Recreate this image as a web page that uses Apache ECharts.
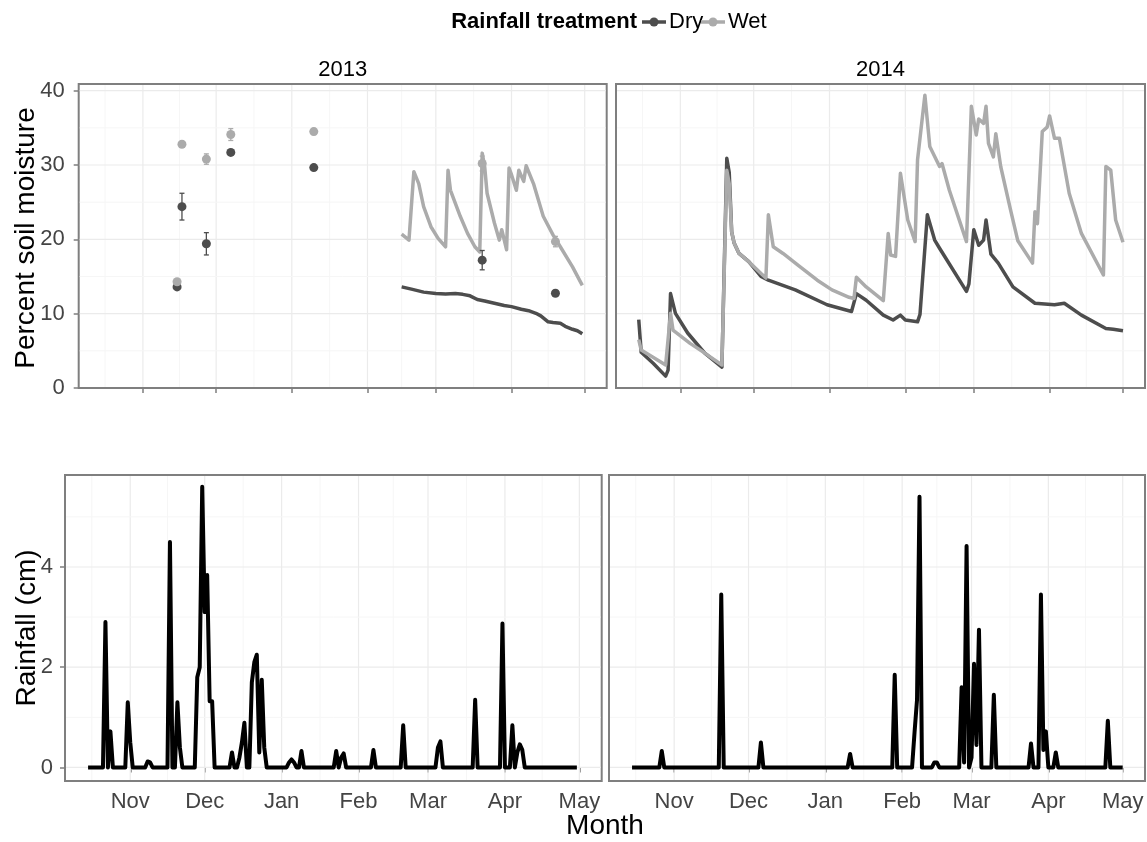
<!DOCTYPE html>
<html><head><meta charset="utf-8">
<script src="https://cdn.jsdelivr.net/npm/echarts@6/dist/echarts.min.js"></script>
<style>html,body{margin:0;padding:0;background:#fff}#c{width:1147px;height:842px}</style>
</head><body><div id="c"></div>
<script>
// ---------------- DATA ----------------
const panelYears = ['2013', '2014'];
const monthLabels = ['Nov', 'Dec', 'Jan', 'Feb', 'Mar', 'Apr', 'May'];
const monthStarts2013 = ['2012-10-01','2012-11-01','2012-12-01','2013-01-01','2013-02-01','2013-03-01','2013-04-01','2013-05-01','2013-06-01'];
const monthStarts2014 = ['2013-10-01','2013-11-01','2013-12-01','2014-01-01','2014-02-01','2014-03-01','2014-04-01','2014-05-01','2014-06-01'];
const moistureTicks = [0, 10, 20, 30, 40];
const rainTicks = [0, 2, 4];
const seriesNames = ['Dry', 'Wet'];

// 2013 spot measurements (mean, error)
const pointDates2013 = ['2012-11-15','2012-11-17','2012-11-27','2012-12-07','2013-01-10','2013-03-20','2013-04-19'];
const dryPoints2013 = [13.6, 24.4, 19.4, 31.7, 29.65, 17.2, 12.75];
const dryErr2013    = [0.3, 1.8, 1.5, 0.3, 0.3, 1.3, 0.3];
const wetPoints2013 = [14.3, 32.8, 30.8, 34.1, 34.5, 30.2, 19.7];
const wetErr2013    = [0.3, 0.3, 0.7, 0.8, 0.4, 1.0, 0.7];

// 2013 sensor lines
const dryLine2013 = [['2013-02-15',13.6],['2013-02-19',13.3],['2013-02-24',12.9],['2013-03-01',12.7],['2013-03-05',12.65],['2013-03-09',12.7],['2013-03-12',12.6],['2013-03-15',12.4],['2013-03-18',11.9],['2013-03-21',11.7],['2013-03-25',11.4],['2013-03-29',11.1],['2013-04-01',10.95],['2013-04-05',10.6],['2013-04-08',10.4],['2013-04-11',10.05],['2013-04-13',9.7],['2013-04-16',8.9],['2013-04-18',8.8],['2013-04-21',8.7],['2013-04-23',8.3],['2013-04-26',7.9],['2013-04-28',7.7],['2013-04-30',7.3]];
const wetLine2013 = [['2013-02-15',20.7],['2013-02-18',19.9],['2013-02-20',29.1],['2013-02-22',27.5],['2013-02-24',24.4],['2013-02-27',21.7],['2013-03-02',20.1],['2013-03-05',19.0],['2013-03-06',29.3],['2013-03-07',26.6],['2013-03-11',23.1],['2013-03-14',20.8],['2013-03-17',19.0],['2013-03-19',18.3],['2013-03-20',31.6],['2013-03-21',29.8],['2013-03-22',26.2],['2013-03-25',22.2],['2013-03-27',19.9],['2013-03-28',21.3],['2013-03-30',18.6],['2013-03-31',29.6],['2013-04-01',28.7],['2013-04-03',26.6],['2013-04-04',29.3],['2013-04-06',27.8],['2013-04-07',29.9],['2013-04-10',27.5],['2013-04-14',23.1],['2013-04-18',20.6],['2013-04-21',19.0],['2013-04-26',16.3],['2013-04-30',13.8]];

// 2014 sensor lines
const dryLine2014 = [['2013-10-15',9.2],['2013-10-16',4.8],['2013-10-21',3.3],['2013-10-26',1.6],['2013-10-27',2.4],['2013-10-28',12.7],['2013-10-30',10.05],['2013-11-04',7.4],['2013-11-11',4.7],['2013-11-18',2.8],['2013-11-20',30.9],['2013-11-21',29.0],['2013-11-22',21.0],['2013-11-23',19.5],['2013-11-25',18.1],['2013-11-29',17.0],['2013-12-04',15.0],['2013-12-07',14.5],['2013-12-18',13.2],['2013-12-31',11.2],['2014-01-10',10.3],['2014-01-12',12.7],['2014-01-16',11.8],['2014-01-23',9.8],['2014-01-27',9.15],['2014-01-30',9.8],['2014-02-01',9.15],['2014-02-06',8.9],['2014-02-07',9.9],['2014-02-10',23.3],['2014-02-13',19.9],['2014-02-15',18.8],['2014-02-26',13.0],['2014-02-27',14.0],['2014-03-01',21.3],['2014-03-03',19.2],['2014-03-05',19.9],['2014-03-06',22.6],['2014-03-08',18.0],['2014-03-11',16.8],['2014-03-17',13.6],['2014-03-26',11.4],['2014-04-03',11.2],['2014-04-07',11.4],['2014-04-14',9.8],['2014-04-24',8.0],['2014-04-27',7.9],['2014-05-01',7.7]];
const wetLine2014 = [['2013-10-15',6.5],['2013-10-16',5.1],['2013-10-26',3.1],['2013-10-28',10.05],['2013-10-29',7.8],['2013-11-05',6.0],['2013-11-11',4.7],['2013-11-18',3.1],['2013-11-20',29.3],['2013-11-21',27.5],['2013-11-22',21.0],['2013-11-23',19.5],['2013-11-25',18.1],['2013-11-29',17.0],['2013-12-04',15.4],['2013-12-06',14.8],['2013-12-07',23.3],['2013-12-09',19.0],['2013-12-13',18.1],['2013-12-20',16.3],['2013-12-27',14.5],['2014-01-02',13.2],['2014-01-09',12.2],['2014-01-11',12.05],['2014-01-12',14.9],['2014-01-16',13.6],['2014-01-23',11.75],['2014-01-25',20.8],['2014-01-26',17.9],['2014-01-28',17.7],['2014-01-30',28.9],['2014-02-02',22.6],['2014-02-05',19.7],['2014-02-06',30.7],['2014-02-09',39.4],['2014-02-11',32.5],['2014-02-15',29.8],['2014-02-16',30.2],['2014-02-19',26.6],['2014-02-26',19.7],['2014-02-28',37.9],['2014-03-02',34.05],['2014-03-03',36.2],['2014-03-05',35.6],['2014-03-06',37.9],['2014-03-07',32.9],['2014-03-09',31.1],['2014-03-10',34.2],['2014-03-12',29.8],['2014-03-16',24.0],['2014-03-19',19.8],['2014-03-25',16.8],['2014-03-26',23.7],['2014-03-27',22.1],['2014-03-29',34.5],['2014-03-31',35.1],['2014-04-01',36.6],['2014-04-03',33.6],['2014-04-05',33.6],['2014-04-09',26.2],['2014-04-14',20.8],['2014-04-23',15.2],['2014-04-24',29.8],['2014-04-26',29.3],['2014-04-28',22.6],['2014-05-01',19.6]];

// daily rainfall: rain days (cm); every other day of the record is 0
const rainRange2013 = ['2012-10-15', '2013-04-30'];
const rainDays2013 = [['2012-10-22',2.9],['2012-10-24',0.72],['2012-10-31',1.3],['2012-11-01',0.5],['2012-11-08',0.12],['2012-11-09',0.1],['2012-11-17',4.5],['2012-11-20',1.3],['2012-11-21',0.4],['2012-11-28',1.8],['2012-11-29',2.0],['2012-11-30',5.6],['2012-12-01',3.1],['2012-12-02',3.84],['2012-12-03',1.32],['2012-12-04',1.32],['2012-12-12',0.3],['2012-12-15',0.2],['2012-12-16',0.5],['2012-12-17',0.89],['2012-12-20',1.7],['2012-12-21',2.1],['2012-12-22',2.25],['2012-12-23',0.3],['2012-12-24',1.75],['2012-12-25',0.4],['2013-01-04',0.1],['2013-01-05',0.16],['2013-01-06',0.1],['2013-01-09',0.33],['2013-01-23',0.33],['2013-01-25',0.2],['2013-01-26',0.28],['2013-02-07',0.35],['2013-02-19',0.84],['2013-03-05',0.4],['2013-03-06',0.52],['2013-03-20',1.35],['2013-03-31',2.87],['2013-04-04',0.84],['2013-04-06',0.3],['2013-04-07',0.46],['2013-04-08',0.35]];
const rainRange2014 = ['2013-10-15', '2014-05-01'];
const rainDays2014 = [['2013-10-27',0.33],['2013-11-20',3.45],['2013-12-06',0.5],['2014-01-11',0.27],['2014-01-29',1.85],['2014-02-06',0.7],['2014-02-07',1.35],['2014-02-08',5.4],['2014-02-14',0.1],['2014-02-15',0.1],['2014-02-25',1.6],['2014-02-26',0.1],['2014-02-27',4.42],['2014-03-01',0.2],['2014-03-02',2.07],['2014-03-03',0.45],['2014-03-04',2.75],['2014-03-10',1.45],['2014-03-25',0.48],['2014-03-29',3.45],['2014-03-30',0.35],['2014-03-31',0.72],['2014-04-04',0.3],['2014-04-25',0.93]];

// ---------------- HELPERS ----------------
const DAY = 86400000;
const T = s => new Date(s + 'T00:00:00').getTime();
const pad = n => (n < 10 ? '0' : '') + n;
function toXY(arr) { return arr.map(d => [T(d[0]), d[1]]); }
function dailyRain(range, days) {
  const m = new Map(days);
  const out = [];
  const d = new Date(range[0] + 'T00:00:00');
  const e = new Date(range[1] + 'T00:00:00');
  while (d <= e) {
    const k = d.getFullYear() + '-' + pad(d.getMonth() + 1) + '-' + pad(d.getDate());
    out.push([d.getTime(), m.has(k) ? m.get(k) : 0]);
    d.setDate(d.getDate() + 1);
  }
  return out;
}
const FONT = '"Liberation Sans", Arial, Helvetica, sans-serif';
const DRY = '#4d4d4d', WET = '#ababab';
const seasons = [monthStarts2013, monthStarts2014];
function tickVals(ms) { return ms.slice(1, 8).map(T); }
function xRange(ms) { return [T(ms[1]) - 26.3 * DAY, T(ms[7]) + 9.0 * DAY]; }
const yRanges = [[0, 40.9], [-0.27, 5.835]];
const yTickSets = [moistureTicks, rainTicks];

// grid lines built from axis tick values (major) and midpoints (minor)
function gridLineData(ms, row) {
  const [x0, x1] = xRange(ms);
  const [y0, y1] = yRanges[row];
  const out = [];
  const all = ms.map(T);
  all.forEach((t, i) => {
    if (t > x0 && t < x1) out.push([0, t, 1]);
    if (i > 0) { const m = (all[i - 1] + t) / 2; if (m > x0 && m < x1) out.push([0, m, 0]); }
  });
  const yt = yTickSets[row];
  const step = yt[1] - yt[0];
  const ext = [yt[0] - step].concat(yt, [yt[yt.length - 1] + step]);
  ext.forEach((v, i) => {
    if (v > y0 && v < y1) out.push([1, v, 1]);
    if (i > 0) { const m = (ext[i - 1] + v) / 2; if (m > y0 && m < y1) out.push([1, m, 0]); }
  });
  return out;
}

// ---------------- LAYOUT ----------------
const grids = [
  { left: 78.7, top: 84, width: 528, height: 304 },
  { left: 616, top: 84, width: 529, height: 304 },
  { left: 65, top: 475, width: 536.7, height: 306 },
  { left: 609, top: 475, width: 536, height: 306 }
].map(g => Object.assign(g, { show: true, borderColor: '#7f7f7f', borderWidth: 2, backgroundColor: '#fff' }));

const tickStyle = { color: '#7f7f7f', width: 1.5 };
const xAxes = [0, 1, 2, 3].map(i => {
  const ms = seasons[i % 2];
  const r = xRange(ms);
  const ticks = tickVals(ms);
  const bottom = i >= 2;
  return {
    type: 'value', gridIndex: i, min: r[0], max: r[1],
    axisLine: { show: false }, splitLine: { show: false },
    axisTick: { show: true, customValues: ticks, length: 5, lineStyle: tickStyle },
    axisLabel: {
      show: bottom, customValues: ticks, margin: 10, fontSize: 22, color: '#444', fontFamily: FONT,
      formatter: v => { const k = ticks.findIndex(t => Math.abs(t - v) < DAY); return k >= 0 ? monthLabels[k] : ''; }
    }
  };
});
const yAxes = [0, 1, 2, 3].map(i => {
  const row = i >= 2 ? 1 : 0;
  const left = i % 2 === 0;
  return {
    type: 'value', gridIndex: i, min: yRanges[row][0], max: yRanges[row][1],
    axisLine: { show: false }, splitLine: { show: false },
    axisTick: { show: left, customValues: yTickSets[row], length: 5, lineStyle: tickStyle },
    axisLabel: { show: left, customValues: yTickSets[row], margin: row === 0 ? 14 : 12, fontSize: 22, color: '#444', fontFamily: FONT }
  };
});

function gridSeries(i) {
  const row = i >= 2 ? 1 : 0;
  return {
    type: 'custom', xAxisIndex: i, yAxisIndex: i, z: 1, silent: true,
    data: gridLineData(seasons[i % 2], row),
    renderItem: (params, api) => {
      const cs = params.coordSys;
      const major = api.value(2) === 1;
      const style = { stroke: major ? '#ebebeb' : '#f6f6f6', lineWidth: major ? 1.2 : 1 };
      if (api.value(0) === 0) {
        const x = api.coord([api.value(1), yRanges[row][0]])[0];
        return { type: 'line', shape: { x1: x, y1: cs.y + 1, x2: x, y2: cs.y + cs.height - 1 }, style };
      }
      const y = api.coord([xRange(seasons[i % 2])[0], api.value(1)])[1];
      return { type: 'line', shape: { x1: cs.x + 1, y1: y, x2: cs.x + cs.width - 1, y2: y }, style };
    }
  };
}
function errSeries(name, vals, errs, color) {
  return {
    type: 'custom', name, xAxisIndex: 0, yAxisIndex: 0, z: 3,
    data: pointDates2013.map((d, k) => [T(d), vals[k], errs[k]]),
    renderItem: (params, api) => {
      const t = api.value(0), v = api.value(1), e = api.value(2);
      const hi = api.coord([t, v + e]), lo = api.coord([t, v - e]);
      const st = { stroke: color, lineWidth: 1.3 };
      return { type: 'group', children: [
        { type: 'line', shape: { x1: hi[0], y1: hi[1], x2: lo[0], y2: lo[1] }, style: st },
        { type: 'line', shape: { x1: hi[0] - 2.5, y1: hi[1], x2: hi[0] + 2.5, y2: hi[1] }, style: st },
        { type: 'line', shape: { x1: lo[0] - 2.5, y1: lo[1], x2: lo[0] + 2.5, y2: lo[1] }, style: st }
      ] };
    }
  };
}
function lineSeries(name, data, i, color, width) {
  return {
    type: 'line', name, xAxisIndex: i, yAxisIndex: i, data, showSymbol: false, symbol: 'none',
    lineStyle: { color, width, join: 'round' }, z: 2
  };
}
function scatterSeries(name, vals, color) {
  return {
    type: 'scatter', name, xAxisIndex: 0, yAxisIndex: 0, z: 4, symbolSize: 9,
    itemStyle: { color, opacity: 1 },
    data: pointDates2013.map((d, k) => [T(d), vals[k]])
  };
}

const series = [
  gridSeries(0), gridSeries(1), gridSeries(2), gridSeries(3),
  lineSeries(seriesNames[0], toXY(dryLine2013), 0, DRY, 3.5),
  lineSeries(seriesNames[1], toXY(wetLine2013), 0, WET, 3.5),
  errSeries(seriesNames[0], dryPoints2013, dryErr2013, DRY),
  errSeries(seriesNames[1], wetPoints2013, wetErr2013, WET),
  scatterSeries(seriesNames[0], dryPoints2013, DRY),
  scatterSeries(seriesNames[1], wetPoints2013, WET),
  lineSeries(seriesNames[0], toXY(dryLine2014), 1, DRY, 3.5),
  lineSeries(seriesNames[1], toXY(wetLine2014), 1, WET, 3.5),
  lineSeries('Rainfall', dailyRain(rainRange2013, rainDays2013), 2, '#000', 4),
  lineSeries('Rainfall', dailyRain(rainRange2014, rainDays2014), 3, '#000', 4)
];

function txt(text, x, y, size, opts) {
  return Object.assign({
    type: 'text', x, y, silent: true,
    style: { text, fontSize: size, fontFamily: FONT, fill: '#000', align: 'center', verticalAlign: 'middle', textAlign: 'center', textVerticalAlign: 'middle' }
  }, opts || {});
}
function legendKey(x, y, color) {
  return [
    { type: 'line', silent: true, shape: { x1: x, y1: y, x2: x + 24, y2: y }, style: { stroke: color, lineWidth: 3.5 } },
    { type: 'circle', silent: true, shape: { cx: x + 12, cy: y, r: 4.5 }, style: { fill: color } }
  ];
}
const graphic = [
  txt(panelYears[0], (grids[0].left + grids[0].left + grids[0].width) / 2, 70, 22, {}),
  txt(panelYears[1], (grids[1].left + grids[1].left + grids[1].width) / 2, 70, 22, {}),
  txt('Percent soil moisture', 26, 238, 28, { rotation: Math.PI / 2 }),
  txt('Rainfall (cm)', 27, 628, 28, { rotation: Math.PI / 2 }),
  txt('Month', 605, 826, 28, {}),
  { type: 'text', x: 637, y: 22, silent: true, style: { text: 'Rainfall treatment', fontSize: 22, fontWeight: 'bold', fontFamily: FONT, fill: '#000', align: 'right', verticalAlign: 'middle', textAlign: 'right', textVerticalAlign: 'middle' } },
  ...legendKey(642, 22, DRY),
  { type: 'text', x: 669, y: 22, silent: true, style: { text: seriesNames[0], fontSize: 22, fontFamily: FONT, fill: '#000', align: 'left', verticalAlign: 'middle', textAlign: 'left', textVerticalAlign: 'middle' } },
  ...legendKey(701, 22, WET),
  { type: 'text', x: 728, y: 22, silent: true, style: { text: seriesNames[1], fontSize: 22, fontFamily: FONT, fill: '#000', align: 'left', verticalAlign: 'middle', textAlign: 'left', textVerticalAlign: 'middle' } }
];

const chart = echarts.init(document.getElementById('c'), null, { renderer: 'canvas' });
chart.setOption({
  animation: false,
  backgroundColor: '#fff',
  grid: grids,
  xAxis: xAxes,
  yAxis: yAxes,
  series,
  graphic
});
</script></body></html>
